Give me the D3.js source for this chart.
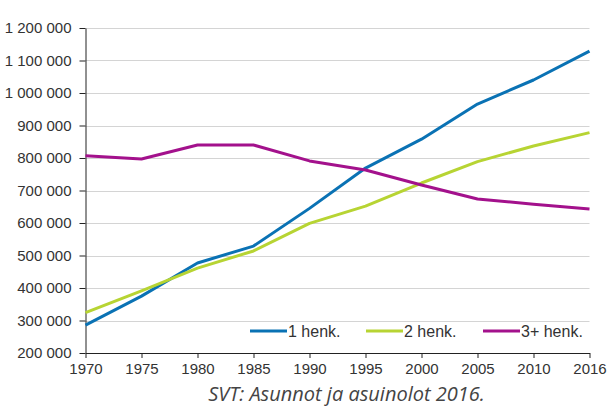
<!DOCTYPE html>
<html>
<head>
<meta charset="utf-8">
<script src="https://cdn.jsdelivr.net/npm/d3@7"></script>
<style>
  html, body { margin: 0; padding: 0; background: #fff; }
  svg { display: block; }
</style>
</head>
<body>
<svg id="chart" width="610" height="407"></svg>
<script>
// Households by size, Finland
const years = ["1970","1975","1980","1985","1990","1995","2000","2005","2010","2016"];
const onePerson   = [286000, 375000, 477000, 529000, 645000, 769000, 858000, 966000, 1040000, 1129000];
const twoPersons  = [324000, 391000, 461000, 514000, 599000, 652000, 723000, 789000, 837000, 878000];
const threePlus   = [807000, 797000, 840000, 840000, 791000, 763000, 717000, 674000, 658000, 643000];
const seriesNames = ["1 henk.", "2 henk.", "3+ henk."];
const yTicks = [200000, 300000, 400000, 500000, 600000, 700000, 800000, 900000, 1000000, 1100000, 1200000];
const caption = "SVT: Asunnot ja asuinolot 2016.";

(function draw() {
  const colors = ["#0a72b4", "#b7d433", "#a3118c"];
  const series = [onePerson, twoPersons, threePlus];

  const svg = d3.select("#chart");
  const plotLeft = 85.5, plotRight = 589.5, plotTop = 28, plotBottom = 353;

  const x = d3.scalePoint().domain(years).range([plotLeft, plotRight]);
  const y = d3.scaleLinear().domain([200000, 1200000]).range([plotBottom, plotTop]);

  const fmt = v => d3.format(",")(v).replace(/,/g, " ");
  const font = "'Liberation Sans', Arial, sans-serif";

  // horizontal gridlines
  svg.append("g")
    .selectAll("line")
    .data(yTicks.slice(1))
    .join("line")
    .attr("x1", plotLeft).attr("x2", plotRight)
    .attr("y1", d => Math.round(y(d)) + 0.5).attr("y2", d => Math.round(y(d)) + 0.5)
    .attr("stroke", "#d4d4d4").attr("stroke-width", 1);

  // y axis
  const yAxis = svg.append("g")
    .attr("transform", `translate(${plotLeft},0)`)
    .call(d3.axisLeft(y).tickValues(yTicks).tickFormat(fmt).tickSize(6).tickSizeOuter(0).tickPadding(8));
  yAxis.select(".domain").attr("stroke", "#222");
  yAxis.selectAll(".tick line").attr("stroke", "#222");
  yAxis.selectAll("text").attr("font-family", font).attr("font-size", 15).attr("fill", "#333");

  // x axis
  const xAxis = svg.append("g")
    .attr("transform", `translate(0,${plotBottom})`)
    .call(d3.axisBottom(x).tickSize(5).tickSizeOuter(0).tickPadding(5));
  xAxis.select(".domain").attr("stroke", "#222");
  xAxis.selectAll(".tick line").attr("stroke", "#222");
  xAxis.selectAll("text").attr("font-family", font).attr("font-size", 15).attr("fill", "#333");

  // lines
  const line = d3.line().x((d, i) => x(years[i])).y(d => y(d));
  svg.append("g")
    .selectAll("path")
    .data(series)
    .join("path")
    .attr("d", d => line(d))
    .attr("fill", "none")
    .attr("stroke", (d, i) => colors[i])
    .attr("stroke-width", 3)
    .attr("stroke-linejoin", "round");

  // legend
  const legendX = [250, 366, 483];
  const legend = svg.append("g").attr("transform", "translate(0,331)");
  seriesNames.forEach((name, i) => {
    legend.append("line")
      .attr("x1", legendX[i]).attr("x2", legendX[i] + 37)
      .attr("y1", 0).attr("y2", 0)
      .attr("stroke", colors[i]).attr("stroke-width", 3);
    legend.append("text")
      .attr("x", legendX[i] + 38).attr("y", 5.5)
      .attr("font-family", font).attr("font-size", 16).attr("fill", "#333")
      .text(name);
  });

  // source
  svg.append("text")
    .attr("x", 346.5).attr("y", 401)
    .attr("text-anchor", "middle")
    .attr("font-family", "'Open Sans', sans-serif")
    .attr("font-style", "italic")
    .attr("font-size", 20)
    .attr("fill", "#444")
    .text(caption);
})();
</script>
</body>
</html>
